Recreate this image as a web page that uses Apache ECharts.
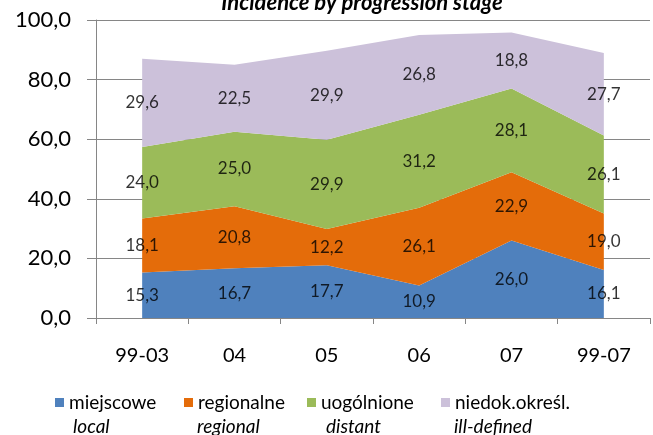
<!DOCTYPE html>
<html><head><meta charset="utf-8">
<script src="https://cdn.jsdelivr.net/npm/echarts@6/dist/echarts.min.js"></script>
<style>html,body{margin:0;padding:0;background:#fff}#c{width:653px;height:435px}</style>
</head><body><div id="c"></div>
<script>
const categories = ['99-03', '04', '05', '06', '07', '99-07'];
const local = [15.3, 16.7, 17.7, 10.9, 26.0, 16.1];
const regional = [18.1, 20.8, 12.2, 26.1, 22.9, 19.0];
const distant = [24.0, 25.0, 29.9, 31.2, 28.1, 26.1];
const illDefined = [29.6, 22.5, 29.9, 26.8, 18.8, 27.7];
const namesPl = ['miejscowe', 'regionalne', 'uogólnione', 'niedok.określ.'];
const namesEn = ['local', 'regional', 'distant', 'ill-defined'];
const yTicks = [0, 20, 40, 60, 80, 100];
const titleText = 'Incidence by progression stage';

const colors = ['#4F81BD', '#E46C0A', '#9BBB59', '#CCC1DA'];
const FONT = 'Lato';
const fmt = v => v.toFixed(1).replace('.', ',');
const seriesVals = [local, regional, distant, illDefined];

const series = [];
seriesVals.forEach((vals, k) => {
  series.push({
    name: namesPl[k], type: 'line', stack: 'total', data: vals,
    symbol: 'none', lineStyle: {width: 0}, areaStyle: {color: colors[k], opacity: 1},
    itemStyle: {color: colors[k]}, silent: true, z: 2
  });
});
// label points at the middle of each stacked band
const labelData = [];
seriesVals.forEach((vals, k) => {
  vals.forEach((v, i) => {
    let base = 0;
    for (let j = 0; j < k; j++) base += seriesVals[j][i];
    labelData.push([i, base + v / 2, v]);
  });
});
series.push({
  type: 'scatter', data: labelData, symbolSize: 1, silent: true, z: 5,
  itemStyle: {color: 'rgba(0,0,0,0)'},
  label: {show: true, position: 'inside', color: '#000', fontFamily: FONT, fontSize: 17,
    formatter: p => fmt(p.value[2])}
});

const legendLeft = [55, 184, 307, 441];
const enLeft = [73, 197, 326, 454];
const legends = namesPl.map((n, k) => ({
  data: [n], left: legendLeft[k], top: 393, padding: 0, icon: 'rect',
  itemWidth: 9, itemHeight: 9, itemGap: 0,
  textStyle: {fontFamily: FONT, fontSize: 19, color: '#000'}
}));
const graphics = namesEn.map((n, k) => ({
  type: 'text', left: enLeft[k], top: 417, silent: true,
  style: {text: n, fontFamily: FONT, fontSize: 19, fontStyle: 'italic', fill: '#000'}
}));
graphics.push({
  type: 'text', x: 362, y: 3, silent: true,
  style: {text: titleText, fontFamily: FONT, fontSize: 22, fontStyle: 'italic', fontWeight: 'bold',
    fill: '#000', align: 'center', verticalAlign: 'middle'}
});

const chart = echarts.init(document.getElementById('c'), null, {renderer: 'canvas'});
chart.setOption({
  animation: false,
  color: colors,
  grid: {left: 96, right: 3, top: 20, bottom: 117, containLabel: false},
  legend: legends,
  graphic: graphics,
  xAxis: {
    type: 'category', data: categories, boundaryGap: true,
    axisLine: {show: true, lineStyle: {color: '#868686', width: 1}},
    axisTick: {show: true, length: 6, interval: 0, lineStyle: {color: '#868686'}},
    axisLabel: {margin: 28, fontFamily: FONT, fontSize: 20, color: '#000', interval: 0}
  },
  yAxis: {
    type: 'value', min: yTicks[0], max: yTicks[yTicks.length - 1], interval: 20,
    axisLine: {show: true, lineStyle: {color: '#868686', width: 1}},
    axisTick: {show: true, length: 9, lineStyle: {color: '#868686'}},
    splitLine: {show: true, lineStyle: {color: '#868686', width: 1}},
    axisLabel: {margin: 25, fontFamily: FONT, fontSize: 22, color: '#000', formatter: v => fmt(v)}
  },
  series: series
});
</script></body></html>
